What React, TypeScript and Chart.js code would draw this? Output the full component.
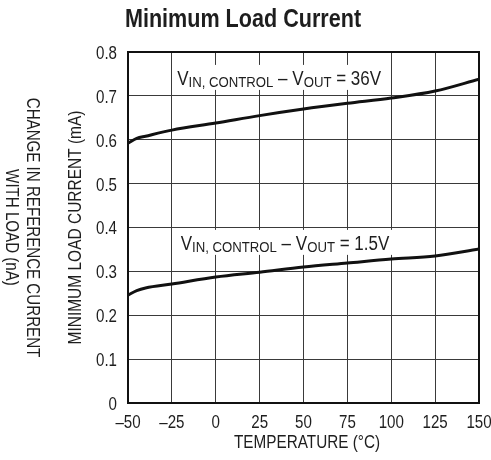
import React, { useEffect, useRef } from 'react';
import { Chart, registerables } from 'chart.js';

Chart.register(...registerables);

const temperatures = [-50, -45, -40, -25, 0, 25, 50, 75, 100, 125, 150];
const current36V = [0.592, 0.603, 0.608, 0.622, 0.638, 0.655, 0.670, 0.683, 0.695, 0.711, 0.738];
const current1p5V = [0.246, 0.256, 0.262, 0.271, 0.287, 0.298, 0.310, 0.319, 0.328, 0.335, 0.351];

const titleText = 'Minimum Load Current';
const xTitle = 'TEMPERATURE (°C)';
const yTitle = 'MINIMUM LOAD CURRENT (mA)';
const y2TitleLines = ['CHANGE IN REFERENCE CURRENT', 'WITH LOAD (nA)'];
const label36 = { x: -22, y: 0.725, parts: ['V', 'IN, CONTROL', ' – V', 'OUT', ' = 36V'] };
const label15 = { x: -20, y: 0.349, parts: ['V', 'IN, CONTROL', ' – V', 'OUT', ' = 1.5V'] };

const FONT = '"Liberation Sans", Arial, sans-serif';
const TEXT = '#1e1e1e';
const SQ = 0.84; // horizontal condensing to mimic a narrow face

function drawText(ctx: any, text: string, x: number, y: number, font: string, align: string, baseline: string, sx = SQ) {
  ctx.save();
  ctx.translate(x, y);
  ctx.scale(sx, 1);
  ctx.font = font;
  ctx.textAlign = align;
  ctx.textBaseline = baseline;
  ctx.fillText(text, 0, 0);
  ctx.restore();
}

const textPlugin = {
  id: 'textPlugin',
  beforeDatasetsDraw(chart: any) {
    const { ctx, scales } = chart;
    const xs = scales.x;
    const ys = scales.y;
    const sx = 0.85;
    const drawLabel = (lab: any) => {
      const x0 = xs.getPixelForValue(lab.x);
      const base = ys.getPixelForValue(lab.y);
      ctx.save();
      const big = `20px ${FONT}`;
      const small = `15.5px ${FONT}`;
      let w = 0;
      lab.parts.forEach((p: string, i: number) => {
        ctx.font = i % 2 === 1 ? small : big;
        w += ctx.measureText(p).width * sx;
      });
      ctx.fillStyle = '#fff';
      ctx.fillRect(x0 - 4, base - 20, w + 8, 25);
      ctx.fillStyle = TEXT;
      let x = x0;
      lab.parts.forEach((p: string, i: number) => {
        const sub = i % 2 === 1;
        const f = sub ? small : big;
        drawText(ctx, p, x, sub ? base + 2 : base, f, 'left', 'alphabetic', sx);
        ctx.font = f;
        x += ctx.measureText(p).width * sx;
      });
      ctx.restore();
    };
    drawLabel(label36);
    drawLabel(label15);
  },
  afterDraw(chart: any) {
    const { ctx, chartArea, scales } = chart;
    const { left, right, top, bottom } = chartArea;
    const xs = scales.x;
    const ys = scales.y;
    ctx.save();
    ctx.strokeStyle = '#111';
    ctx.lineWidth = 2;
    ctx.strokeRect(left, top, right - left, bottom - top);
    ctx.fillStyle = TEXT;
    const tickFont = `18px ${FONT}`;
    xs.ticks.forEach((t: any) => {
      const px = xs.getPixelForValue(t.value);
      drawText(ctx, String(t.value).replace('-', '–'), px, 428, tickFont, 'center', 'alphabetic');
    });
    ys.ticks.forEach((t: any) => {
      const py = ys.getPixelForValue(t.value);
      const s = Math.abs(t.value) < 1e-9 ? '0' : Number(t.value).toFixed(1);
      drawText(ctx, s, left - 11, py + 2, tickFont, 'right', 'middle');
    });
    drawText(ctx, titleText, 243, 27, `bold 26px ${FONT}`, 'center', 'alphabetic', 0.83);
    drawText(ctx, xTitle, 307, 448, `18px ${FONT}`, 'center', 'alphabetic', 0.85);
    const cy = (top + bottom) / 2;
    ctx.save();
    ctx.translate(76, cy);
    ctx.rotate(-Math.PI / 2);
    drawText(ctx, yTitle, 0, 0, `18px ${FONT}`, 'center', 'middle', 0.86);
    ctx.restore();
    ctx.save();
    ctx.translate(32, cy);
    ctx.rotate(Math.PI / 2);
    drawText(ctx, y2TitleLines[0], 0, 0, `18px ${FONT}`, 'center', 'middle', 0.84);
    drawText(ctx, y2TitleLines[1], 0, 21, `18px ${FONT}`, 'center', 'middle', 0.84);
    ctx.restore();
    ctx.restore();
  },
};

export default function App() {
  const ref = useRef<HTMLCanvasElement>(null);
  useEffect(() => {
    if (!ref.current) return;
    const mk = (d: number[]) => temperatures.map((t, i) => ({ x: t, y: d[i] }));
    const chart = new Chart(ref.current, {
      type: 'line',
      data: {
        datasets: [
          { data: mk(current36V), borderColor: '#111', borderWidth: 3, pointRadius: 0, cubicInterpolationMode: 'monotone', fill: false },
          { data: mk(current1p5V), borderColor: '#111', borderWidth: 3, pointRadius: 0, cubicInterpolationMode: 'monotone', fill: false },
        ],
      },
      options: {
        responsive: false,
        animation: false,
        layout: { padding: { left: 88, right: 12, top: 52, bottom: 0 } },
        plugins: { legend: { display: false }, tooltip: { enabled: false }, title: { display: false } },
        scales: {
          x: {
            type: 'linear',
            min: -50,
            max: 150,
            afterFit: (s: any) => { s.height = 57; },
            grid: { color: '#3a3a3a', lineWidth: 1, drawTicks: false },
            border: { display: false },
            ticks: { stepSize: 25, display: false },
          },
          y: {
            type: 'linear',
            min: 0,
            max: 0.8,
            afterFit: (s: any) => { s.width = 40; },
            grid: { color: '#3a3a3a', lineWidth: 1, drawTicks: false },
            border: { display: false },
            ticks: { stepSize: 0.1, display: false },
          },
        },
      },
      plugins: [textPlugin],
    } as any);
    return () => chart.destroy();
  }, []);
  return (
    <div style={{ position: 'fixed', left: 0, top: 0, width: 491, height: 460, background: '#fff' }}>
      <canvas ref={ref} width={491} height={460} style={{ display: 'block' }} />
    </div>
  );
}
